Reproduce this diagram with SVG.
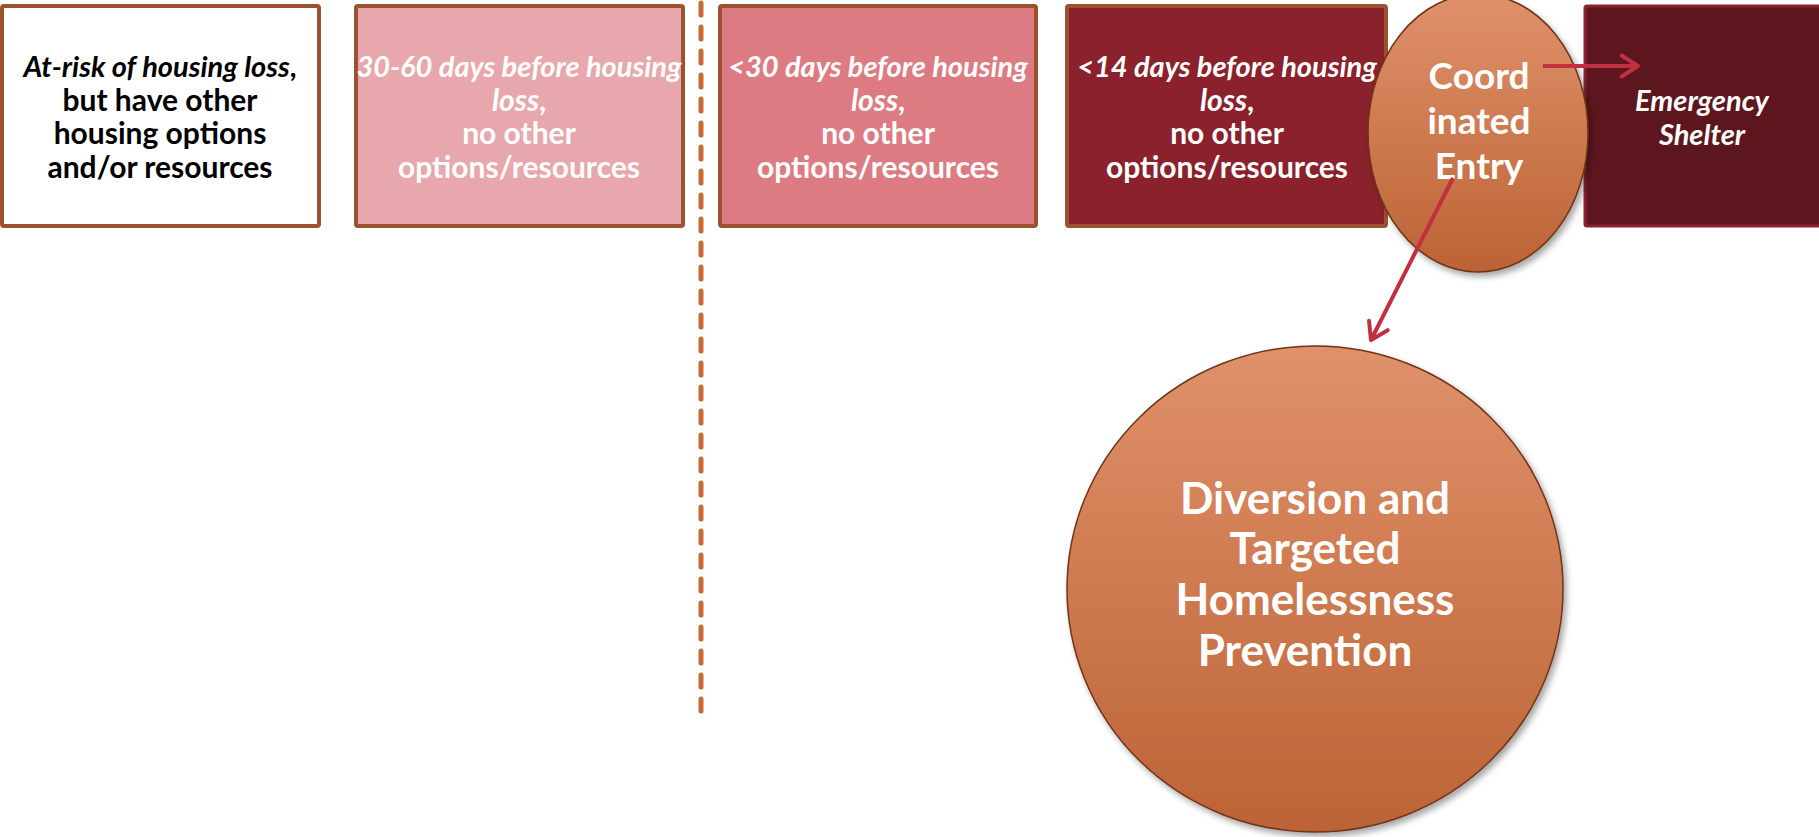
<svg xmlns="http://www.w3.org/2000/svg" width="1819" height="837" viewBox="0 0 1819 837">
  <defs>
    <linearGradient id="orb" x1="0" y1="0" x2="0" y2="1">
      <stop offset="0" stop-color="#e0916a"/>
      <stop offset="1" stop-color="#bc6336"/>
    </linearGradient>
    <filter id="shadow" x="-10%" y="-10%" width="125%" height="125%">
      <feDropShadow dx="3" dy="4" stdDeviation="3" flood-color="#000" flood-opacity="0.35"/>
    </filter>
    <marker id="chev" viewBox="0 0 12 12" refX="10" refY="6" markerWidth="7" markerHeight="7" orient="auto" markerUnits="strokeWidth">
      <path d="M3,1.5 L10,6 L3,10.5" fill="none" stroke="#c0303f" stroke-width="1.7" stroke-linecap="round" stroke-linejoin="round"/>
    </marker>
  </defs>
  <style>
    .box { stroke: #9b5230; stroke-width: 4; }
    .t { font-family: Lato, "Open Sans", sans-serif; font-weight: bold; font-size: 30px; text-anchor: middle; }
    .hd { font-size: 29px; }
    .es { font-size: 29px; }
    .ce { font-size: 37px; }
    .dv { font-size: 44px; }
    .w { fill: #ffffff; }
    .k { fill: #000000; }
    .i { font-style: italic; }
    .orb { fill: url(#orb); stroke: #6e3418; stroke-width: 1.5; filter: url(#shadow); }
    .conn { stroke: #c0303f; stroke-width: 4; fill: none; marker-end: url(#chev); }
  </style>

  <!-- stage 1: at risk, other options -->
  <g id="at-risk">
    <rect class="box" x="2" y="6" width="317" height="220" rx="2" fill="#ffffff"/>
    <text class="t hd k" x="160" y="77"><tspan class="i">At-risk of housing loss</tspan>,</text>
    <text class="t k" x="160" y="111">but have other</text>
    <text class="t k" x="160" y="144">housing options</text>
    <text class="t k" x="160" y="178">and/or resources</text>
  </g>

  <!-- stage 2: 30-60 days -->
  <g id="days-30-60">
    <rect class="box" x="356" y="6" width="327" height="220" rx="2" fill="#e8a7ad"/>
    <text class="t hd w i" x="519" y="77">30-60 days before housing</text>
    <text class="t w" x="519" y="111"><tspan class="i">loss</tspan>,</text>
    <text class="t w" x="519" y="144">no other</text>
    <text class="t w" x="519" y="178">options/resources</text>
  </g>

  <!-- divider -->
  <g id="divider">
    <line x1="701" y1="3" x2="701" y2="712" stroke="#c8693a" stroke-width="5" stroke-linecap="round" stroke-dasharray="12 12"/>
  </g>

  <!-- stage 3: under 30 days -->
  <g id="days-under-30">
    <rect class="box" x="720" y="6" width="316" height="220" rx="2" fill="#dd7b83"/>
    <text class="t hd w i" x="878" y="77">&lt;30 days before housing</text>
    <text class="t w" x="878" y="111"><tspan class="i">loss</tspan>,</text>
    <text class="t w" x="878" y="144">no other</text>
    <text class="t w" x="878" y="178">options/resources</text>
  </g>

  <!-- stage 4: under 14 days -->
  <g id="days-under-14">
    <rect class="box" x="1067" y="6" width="319" height="220" rx="2" fill="#8b212d"/>
    <text class="t hd w i" x="1227" y="77">&lt;14 days before housing</text>
    <text class="t w" x="1227" y="111"><tspan class="i">loss</tspan>,</text>
    <text class="t w" x="1227" y="144">no other</text>
    <text class="t w" x="1227" y="178">options/resources</text>
  </g>

  <!-- emergency shelter -->
  <g id="emergency-shelter">
    <rect x="1585" y="6" width="236" height="220" rx="2" fill="#5e161e" stroke="#8c2230" stroke-width="3"/>
    <text class="t es w i" x="1702" y="111">Emergency</text>
    <text class="t es w i" x="1702" y="145">Shelter</text>
  </g>

  <!-- coordinated entry -->
  <g id="coordinated-entry">
    <ellipse class="orb" cx="1478" cy="133" rx="110" ry="139"/>
    <text class="t ce w" x="1479" y="89">Coord</text>
    <text class="t ce w" x="1479" y="134">inated</text>
    <text class="t ce w" x="1479" y="179">Entry</text>
  </g>

  <!-- diversion and prevention -->
  <g id="diversion-prevention">
    <ellipse class="orb" cx="1315" cy="589" rx="248" ry="243"/>
    <text class="t dv w" x="1315" y="514">Diversion and</text>
    <text class="t dv w" x="1315" y="564">Targeted</text>
    <text class="t dv w" x="1315" y="615">Homelessness</text>
    <text class="t dv w" x="1305" y="666">Prevention</text>
  </g>

  <!-- connectors -->
  <g id="connectors">
    <line class="conn" x1="1543" y1="66" x2="1638" y2="66"/>
    <line class="conn" x1="1453" y1="178" x2="1371" y2="340"/>
  </g>
</svg>
